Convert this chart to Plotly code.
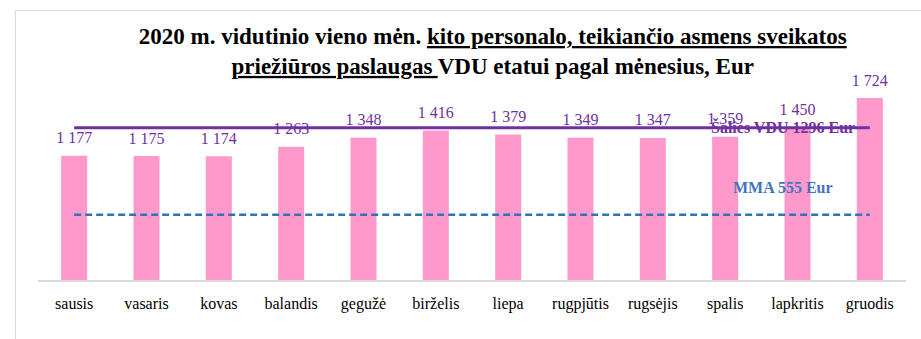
import plotly.graph_objects as go

# Monthly average wage per FTE, 2020
months = ["sausis", "vasaris", "kovas", "balandis", "gegužė", "birželis",
          "liepa", "rugpjūtis", "rugsėjis", "spalis", "lapkritis", "gruodis"]
wages = [1177, 1175, 1174, 1263, 1348, 1416, 1379, 1349, 1347, 1359, 1450, 1724]

# Reference levels
salies_vdu = 1296
mma = 555

SERIF = "Liberation Serif, Times New Roman, serif"
PURPLE = "#7030a0"
BLUE = "#2e75b6"

fig = go.Figure()

fig.add_trace(go.Bar(
    x=months, y=wages,
    marker=dict(color="#ff99cc", line=dict(width=0)),
    width=0.36,
    showlegend=False,
))

# Value labels above the bars (invisible marker gives a little extra gap)
fig.add_trace(go.Scatter(
    x=months, y=wages,
    mode="markers+text",
    marker=dict(size=12, opacity=0),
    texttemplate="%{y:,}",
    textposition="top center",
    textfont=dict(family=SERIF, size=16, color=PURPLE),
    cliponaxis=False,
    showlegend=False, hoverinfo="skip",
))

fig.add_trace(go.Scatter(
    x=months, y=[salies_vdu] * len(months), yaxis="y2",
    mode="lines", line=dict(color=PURPLE, width=3),
    showlegend=False, hoverinfo="skip",
))
fig.add_trace(go.Scatter(
    x=months, y=[mma] * len(months), yaxis="y2",
    mode="lines", line=dict(color=BLUE, width=2.5, dash="7px,4px"),
    showlegend=False, hoverinfo="skip",
))

fig.add_annotation(
    x=9.8, y=salies_vdu, xref="x", yref="y2", yshift=1,
    text=f"<b>Šalies VDU {salies_vdu} Eur</b>", showarrow=False,
    font=dict(family=SERIF, size=16, color=PURPLE),
)
fig.add_annotation(
    x=9.8, y=mma, xref="x", yref="y2", yshift=27,
    text=f"<b>MMA {mma} Eur</b>", showarrow=False,
    font=dict(family=SERIF, size=16, color="#4472c4"),
)

# Outer chart frame
fig.add_shape(
    type="rect", xref="paper", yref="paper",
    x0=-0.026, x1=1.2, y0=-0.6, y1=1.418,
    line=dict(color="#d9d9d9", width=1), layer="below",
)

fig.update_layout(
    width=921, height=339,
    margin=dict(l=38, r=15, t=90, b=59),
    paper_bgcolor="white", plot_bgcolor="white",
    separators=", ",
    bargap=0.64,
    title=dict(
        text="<b>2020 m. vidutinio vieno mėn. <u>kito personalo, teikiančio asmens sveikatos</u><br>"
             "<u>priežiūros paslaugas </u>VDU etatui pagal mėnesius, Eur</b>",
        x=0.535, xref="container", xanchor="center",
        y=1 - 44 / 339, yref="container", yanchor="top",
        font=dict(family=SERIF, size=23, color="black"),
    ),
    xaxis=dict(
        range=[-0.5, len(months) - 0.5],
        showgrid=False, showline=True, linecolor="#d9d9d9", linewidth=1.5,
        ticks="", tickfont=dict(family=SERIF, size=16, color="black"),
        ticklabelstandoff=8,
    ),
    yaxis=dict(range=[0, 1801], visible=False, showgrid=False),
    yaxis2=dict(range=[0, 1618], visible=False, overlaying="y", showgrid=False),
)

fig.write_html("out.html")
